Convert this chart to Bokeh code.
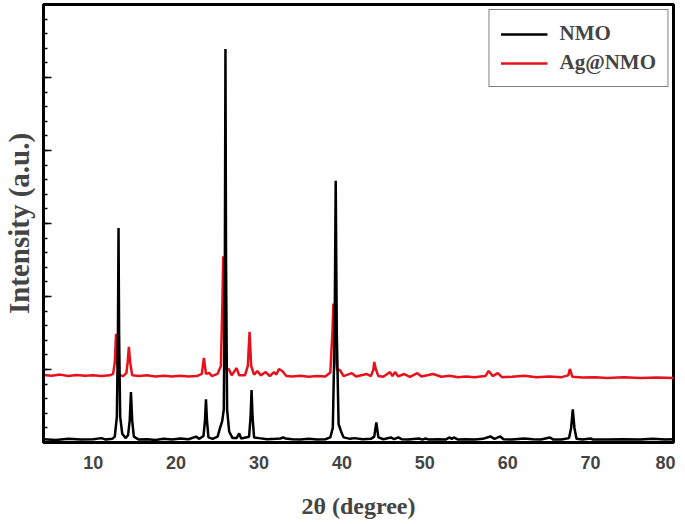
from bokeh.plotting import figure
from bokeh.models import Range1d, FixedTicker, Legend, LegendItem, CustomLabelingPolicy
from bokeh.embed import file_html
from bokeh.resources import INLINE

# ---- data (2θ in degrees, intensity in a.u.) ----
nmo_2theta = [4.0, 5.5, 7.0, 8.5, 10.0, 11.0, 11.5, 12.3,
              12.6, 12.85, 12.98, 13.05, 13.12, 13.25, 13.5, 13.9,
              14.2, 14.4, 14.55, 14.7, 14.9,
              15.5, 16.5, 17.5, 18.5, 19.5, 20.5, 21.5, 22.4, 22.8,
              23.3, 23.48, 23.6, 23.72, 23.9, 24.4, 25.0,
              25.3, 25.55, 25.75, 25.88, 25.95, 26.02, 26.15, 26.4, 26.8, 27.3,
              27.6, 27.85,
              28.8, 28.98, 29.1, 29.22, 29.4, 30.0, 31.0, 32.0, 32.6, 32.9, 33.2,
              34.0, 35.0, 36.0, 37.0, 38.0, 38.6,
              38.9, 39.12, 39.25, 39.38, 39.6, 39.9, 40.2, 41.0, 41.5, 42.5, 43.5, 43.9,
              44.15, 44.4, 45.0, 45.9, 46.3, 46.8, 47.2, 48.0, 49.3, 49.7, 50.1, 50.5,
              51.5, 52.5, 53.0, 53.25, 53.5, 54.0, 55.0, 56.0, 57.0, 57.9, 58.4, 59.1,
              59.5, 60.5, 62.0, 63.0, 64.0, 65.1, 65.5, 66.5, 67.4,
              67.65, 67.85, 68.05, 68.3, 69.0, 70.0, 70.3, 72.0, 74.0, 76.0, 77.5, 79.0, 80.0]
nmo_intensity = [45, 35, 50, 40, 45, 60, 40, 50,
                 80, 350, 1500, 2937, 1500, 350, 120, 60,
                 100, 300, 690, 300, 80,
                 40, 45, 35, 50, 40, 55, 45, 80, 50,
                 90, 300, 593, 300, 70, 50, 80,
                 200, 290, 450, 2500, 5392, 2500, 450, 150, 60, 60,
                 124, 55,
                 80, 350, 717, 350, 70, 60, 45, 50, 55, 70, 55,
                 45, 40, 50, 40, 45, 70,
                 200, 1500, 3586, 1500, 250, 152, 70, 50, 60, 45, 50, 80,
                 276, 70, 45, 69, 45, 69, 45, 40, 55, 40, 55, 40,
                 45, 40, 69, 50, 69, 40, 45, 40, 50, 83, 50, 83,
                 45, 40, 55, 45, 40, 69, 40, 40, 60,
                 200, 455, 200, 50, 40, 55, 40, 40, 45, 40, 50, 40, 45]

ag_2theta = [4.0, 5.0, 6.0, 7.0, 8.0, 9.0, 10.0, 11.0, 12.0, 12.4,
             12.6, 12.75, 12.9, 13.1, 13.6, 14.0,
             14.15, 14.3, 14.45, 14.7, 15.5, 16.5, 17.5, 18.5, 19.5, 20.5, 21.5, 22.5, 23.1,
             23.35, 23.6, 24.0, 24.3, 25.0, 25.4,
             25.58, 25.68, 25.78, 25.95, 26.35, 26.7, 27.3, 27.6, 28.3, 28.65,
             28.86, 29.05, 29.4, 29.8, 30.2, 30.8, 31.3, 31.8, 32.1, 32.4, 32.8, 33.3,
             34.0, 35.0, 36.0, 37.0, 38.0, 38.6,
             38.85, 38.98, 39.12, 39.4, 39.75, 40.2, 41.2, 41.7, 43.0, 43.5, 43.8, 43.9,
             44.1, 44.4, 45.0, 45.8, 46.1, 46.4, 46.8, 47.5, 48.2, 49.1, 49.6, 51.0,
             52.0, 53.0, 54.0, 55.0, 56.0, 57.3, 57.7, 58.2, 58.8, 59.3, 60.5, 62.0,
             63.5, 65.0, 66.5, 67.3, 67.5, 67.8, 69.0, 70.5, 72.0, 74.0, 76.0, 78.0, 80.0]
ag_intensity = [925, 915, 930, 910, 925, 915, 920, 910, 920, 940,
                1100, 1490, 1100, 920, 910, 950,
                1100, 1310, 1100, 920, 910, 920, 905, 915, 905, 915, 905, 910, 940,
                1158, 940, 952, 910, 940, 1048,
                1900, 2551, 1600, 1000, 1007, 920, 1020, 920, 920, 1050,
                1517, 1050, 930, 979, 920, 965, 910, 965, 930, 1007, 979, 910,
                905, 915, 900, 910, 905, 960,
                1500, 1903, 1400, 1000, 993, 910, 950, 905, 938, 910, 1000, 1103,
                1000, 910, 900, 965, 910, 965, 905, 938, 900, 950, 905, 938,
                900, 915, 895, 905, 895, 910, 979, 910, 950, 895, 900, 915,
                895, 905, 895, 920, 1007, 900, 890, 895, 885, 895, 885, 890, 885]

x_ticks = [10, 20, 30, 40, 50, 60, 70, 80]
y_major = [0, 1000, 2000, 3000, 4000, 5000, 6000]
y_minor = list(range(0, 6001, 200))

p = figure(output_backend="svg", toolbar_location=None,
           frame_width=630, frame_height=438,
           min_border_left=38, min_border_right=2, min_border_top=4, min_border_bottom=4,
           x_range=Range1d(4, 80), y_range=Range1d(0, 6000))

p.background_fill_color = "white"
p.border_fill_color = "white"
p.outline_line_color = "black"
p.outline_line_width = 3
p.xgrid.visible = False
p.ygrid.visible = False

r_ag = p.line(ag_2theta, ag_intensity, line_color="#e8101a", line_width=2.5)
r_nmo = p.line(nmo_2theta, nmo_intensity, line_color="black", line_width=2.5)

# x axis
p.xaxis.ticker = FixedTicker(ticks=x_ticks)
p.xaxis.axis_line_width = 3
p.xaxis.major_tick_line_color = None
p.xaxis.minor_tick_line_color = None
p.xaxis.major_label_text_font = "Liberation Sans"
p.xaxis.major_label_text_font_style = "bold"
p.xaxis.major_label_text_font_size = "18px"
p.xaxis.major_label_standoff = 7
p.xaxis.axis_label = "2θ (degree)"
p.xaxis.axis_label_text_font = "Liberation Serif"
p.xaxis.axis_label_text_font_style = "bold"
p.xaxis.axis_label_text_font_size = "24px"
p.xaxis.axis_label_standoff = 21

# y axis: ticks inside, no tick labels
p.yaxis.ticker = FixedTicker(ticks=y_major, minor_ticks=y_minor)
p.yaxis.axis_line_width = 3
p.yaxis.major_tick_in = 8
p.yaxis.major_tick_out = 0
p.yaxis.minor_tick_in = 4
p.yaxis.minor_tick_out = 0
p.yaxis.major_tick_line_width = 1.5
p.yaxis.minor_tick_line_width = 1.5
p.yaxis.major_label_policy = CustomLabelingPolicy(code="return new Set()")
p.yaxis.major_label_text_font_size = "1px"
p.yaxis.major_label_standoff = 0
p.yaxis.axis_label = "Intensity (a.u.)"
p.yaxis.axis_label_text_font = "Liberation Serif"
p.yaxis.axis_label_text_font_style = "bold"
p.yaxis.axis_label_text_font_size = "29px"
p.yaxis.axis_label_standoff = 3

legend = Legend(items=[LegendItem(label="NMO", renderers=[r_nmo]),
                       LegendItem(label="Ag@NMO", renderers=[r_ag])],
                location="top_right")
legend.border_line_color = "black"
legend.border_line_width = 1.5
legend.background_fill_color = "white"
legend.label_text_font = "Liberation Serif"
legend.label_text_font_style = "bold"
legend.label_text_font_size = "21px"
legend.glyph_width = 47
legend.glyph_height = 20
legend.label_height = 20
legend.label_standoff = 12
legend.spacing = 4
legend.padding = 11
legend.margin = 5
p.add_layout(legend)

open("out.html", "w").write(file_html(p, INLINE))
